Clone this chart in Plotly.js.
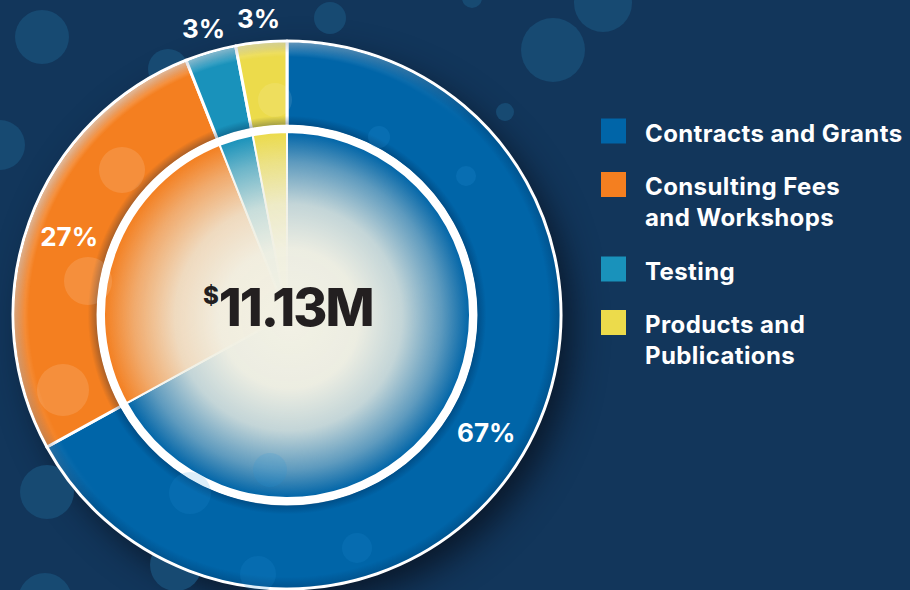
<!DOCTYPE html>
<html><head><meta charset="utf-8">
<script src="https://cdn.plot.ly/plotly-3.0.1.min.js"></script>
<style>html,body{margin:0;padding:0;background:#12365b;}#chart{width:910px;height:590px;}</style>
</head><body><div id="chart"></div>
<script>
// ---- data ----
const categories = ['Contracts and Grants', 'Consulting Fees and Workshops', 'Testing', 'Products and Publications'];
const legendLabels = ['Contracts and Grants', 'Consulting Fees<br>and Workshops', 'Testing', 'Products and<br>Publications'];
const shares = [67, 27, 3, 3];
const colors = ['#0065a8', '#f47f20', '#1992bb', '#ecdb4b'];
const currency = '$';
const totalLabel = '11.13M';

// ---- geometry / style ----
const W = 910, H = 590;
const CX = 287, CY = 315, R_OUT = 274, R_HOLE = 189, R_WHITE = 190, R_IN = 183;
const FONT = 'Inter, "Open Sans", sans-serif';
const BG = '#12365b';
const SMALL = 10; // slices below this share get their label outside the ring

function dom(r) {
  return { x: [(CX - r) / W, (CX + r) / W], y: [Math.max(0, (H - CY - r) / H), Math.min(1, (H - CY + r) / H)] };
}
function px(x) { return x / W; }
function py(y) { return 1 - y / H; }

const total = shares.reduce((a, b) => a + b, 0);
const ring = {
  type: 'pie', values: shares, labels: categories, sort: false, direction: 'clockwise', rotation: 0,
  hole: R_HOLE / R_OUT, domain: dom(R_OUT),
  marker: { colors: colors, line: { color: '#ffffff', width: 3 } },
  texttemplate: '%{percent:.0%}',
  textposition: shares.map(v => v >= SMALL ? 'inside' : 'none'),
  insidetextorientation: 'horizontal',
  textfont: { family: FONT, size: 26, color: '#ffffff', weight: 700 },
  showlegend: false, hoverinfo: 'label+percent'
};
const whiteDisk = {
  type: 'pie', values: [1], labels: ['total'], sort: false, domain: dom(R_WHITE),
  marker: { colors: ['#ffffff'], line: { width: 0 } }, textinfo: 'none', hoverinfo: 'skip', showlegend: false
};
const inner = {
  type: 'pie', values: shares, labels: categories, sort: false, direction: 'clockwise', rotation: 0,
  domain: dom(R_IN),
  marker: { colors: colors, line: { color: '#ffffff', width: 2 } },
  textinfo: 'none', showlegend: false, hoverinfo: 'label+percent'
};

// ---- decorative canvases ----
function makeCanvas() { const c = document.createElement('canvas'); c.width = W; c.height = H; return c; }
const below = makeCanvas();
(function () {
  const ctx = below.getContext('2d');
  ctx.shadowColor = 'rgba(8,18,32,0.85)';
  ctx.shadowBlur = 34; ctx.shadowOffsetX = 12; ctx.shadowOffsetY = 14;
  ctx.fillStyle = BG;
  ctx.beginPath(); ctx.arc(CX, CY, R_OUT - 2, 0, 2 * Math.PI); ctx.fill();
})();
const above = makeCanvas();
(function () {
  const ctx = above.getContext('2d');
  ctx.save();
  ctx.beginPath(); ctx.arc(CX, CY, R_IN, 0, 2 * Math.PI); ctx.clip();
  const g = ctx.createRadialGradient(CX + 4, CY + 6, 0, CX, CY, R_IN);
  g.addColorStop(0, 'rgba(242,241,228,1)');
  g.addColorStop(0.38, 'rgba(241,240,227,0.98)');
  g.addColorStop(0.62, 'rgba(238,238,226,0.82)');
  g.addColorStop(0.84, 'rgba(236,236,224,0.4)');
  g.addColorStop(1, 'rgba(236,236,224,0)');
  ctx.fillStyle = g; ctx.fillRect(0, 0, W, H);
  ctx.restore();
  ctx.save();
  ctx.beginPath(); ctx.arc(CX, CY, R_OUT - 1.5, 0, 2 * Math.PI); ctx.arc(CX, CY, R_HOLE + 1.5, 0, 2 * Math.PI, true); ctx.clip();
  const s = ctx.createRadialGradient(CX, CY, R_HOLE, CX, CY, R_OUT);
  s.addColorStop(0, 'rgba(0,25,60,0.35)');
  s.addColorStop(0.12, 'rgba(0,25,60,0)');
  s.addColorStop(0.86, 'rgba(0,25,60,0)');
  s.addColorStop(1, 'rgba(0,25,60,0.25)');
  ctx.fillStyle = s; ctx.fillRect(0, 0, W, H);
  const off = makeCanvas(); const o = off.getContext('2d');
  const hl = o.createRadialGradient(CX, CY, R_OUT - 16, CX, CY, R_OUT);
  hl.addColorStop(0, 'rgba(255,255,255,0)');
  hl.addColorStop(1, 'rgba(255,255,255,0.6)');
  o.fillStyle = hl; o.fillRect(0, 0, W, H);
  o.globalCompositeOperation = 'destination-in';
  const lin = o.createLinearGradient(CX - R_OUT * 0.7, CY - R_OUT * 0.7, CX, CY);
  lin.addColorStop(0, 'rgba(0,0,0,1)'); lin.addColorStop(1, 'rgba(0,0,0,0)');
  o.fillStyle = lin; o.fillRect(0, 0, W, H);
  ctx.drawImage(off, 0, 0);
  ctx.restore();
})();

// ---- bubbles (decorative) ----
const bgBubbles = [[42, 37, 27], [0, 145, 25], [47, 492, 27], [45, 600, 27], [168, 69, 20], [330, 18, 16], [553, 50, 32], [505, 112, 9], [603, 3, 29], [472, -2, 10], [176, 565, 26]];
const ringBubbles = [[122, 170, 23, 'rgba(255,255,255,0.13)'], [88, 281, 24, 'rgba(255,255,255,0.13)'], [63, 390, 26, 'rgba(255,255,255,0.13)'],
  [190, 493, 21, 'rgba(40,150,220,0.16)'], [270, 470, 17, 'rgba(40,150,220,0.16)'], [258, 574, 18, 'rgba(40,150,220,0.16)'],
  [357, 548, 15, 'rgba(40,150,220,0.16)'], [466, 176, 10, 'rgba(40,150,220,0.2)'], [379, 137, 11, 'rgba(40,150,220,0.2)'], [275, 100, 17, 'rgba(255,255,255,0.1)']];
const shapes = [];
bgBubbles.forEach(b => shapes.push({ type: 'circle', xref: 'paper', yref: 'paper', layer: 'below', x0: px(b[0] - b[2]), x1: px(b[0] + b[2]), y0: py(b[1] + b[2]), y1: py(b[1] - b[2]), fillcolor: '#174a72', line: { width: 0 } }));
ringBubbles.forEach(b => shapes.push({ type: 'circle', xref: 'paper', yref: 'paper', layer: 'above', x0: px(b[0] - b[2]), x1: px(b[0] + b[2]), y0: py(b[1] + b[2]), y1: py(b[1] - b[2]), fillcolor: b[3], line: { width: 0 } }));

const annotations = [];
// ---- outside labels for small slices, placed on each slice's bisector ----
const R_LABEL = 298;
let cum = 0;
shares.forEach(v => {
  const mid = (cum + v / 2) / total * 2 * Math.PI;
  cum += v;
  if (v >= SMALL) return;
  annotations.push({ xref: 'paper', yref: 'paper', x: px(CX + R_LABEL * Math.sin(mid)), y: py(CY - R_LABEL * Math.cos(mid)),
    xanchor: 'center', yanchor: 'middle', showarrow: false, text: Math.round(v / total * 100) + '%',
    font: { family: FONT, size: 26, color: '#ffffff', weight: 700 } });
});

// ---- custom legend ----
const LEG_SQ = 25, LEG_X = 601, LEG_TX = 643, LEG_Y0 = 131, ROW_GAP = 53.5, LINE_H = 31;
let yRow = LEG_Y0;
legendLabels.forEach((lab, i) => {
  shapes.push({ type: 'rect', xref: 'paper', yref: 'paper', layer: 'above', x0: px(LEG_X), x1: px(LEG_X + LEG_SQ), y0: py(yRow + LEG_SQ / 2), y1: py(yRow - LEG_SQ / 2), fillcolor: colors[i], line: { width: 0 } });
  const lines = lab.split('<br>');
  lines.forEach((ln, k) => {
    annotations.push({ xref: 'paper', yref: 'paper', x: px(LEG_TX), y: py(yRow + 2 + k * LINE_H), xanchor: 'left', yanchor: 'middle', align: 'left', showarrow: false,
      text: '<span style="letter-spacing:0.4px">' + ln + '</span>', font: { family: FONT, size: 24, color: '#ffffff', weight: 700 } });
  });
  yRow += ROW_GAP + (lines.length - 1) * LINE_H;
});
// ---- centre total ----
annotations.push({ xref: 'paper', yref: 'paper', x: px(CX), y: py(307), xanchor: 'center', yanchor: 'middle', showarrow: false,
  text: '<sup><span style="font-size:24px">' + currency + '</span></sup><span style="letter-spacing:-2px">' + totalLabel + '</span>',
  font: { family: FONT, size: 52, color: '#231f20', weight: 800 } });

const layout = {
  width: W, height: H, margin: { l: 0, r: 0, t: 0, b: 0 },
  paper_bgcolor: BG, plot_bgcolor: BG, showlegend: false,
  shapes: shapes, annotations: annotations,
  images: [
    { source: below.toDataURL(), xref: 'paper', yref: 'paper', x: 0, y: 1, sizex: 1, sizey: 1, xanchor: 'left', yanchor: 'top', sizing: 'stretch', layer: 'below' },
    { source: above.toDataURL(), xref: 'paper', yref: 'paper', x: 0, y: 1, sizex: 1, sizey: 1, xanchor: 'left', yanchor: 'top', sizing: 'stretch', layer: 'above' }
  ]
};
Plotly.newPlot('chart', [ring, whiteDisk, inner], layout, { displayModeBar: false });
</script></body></html>
